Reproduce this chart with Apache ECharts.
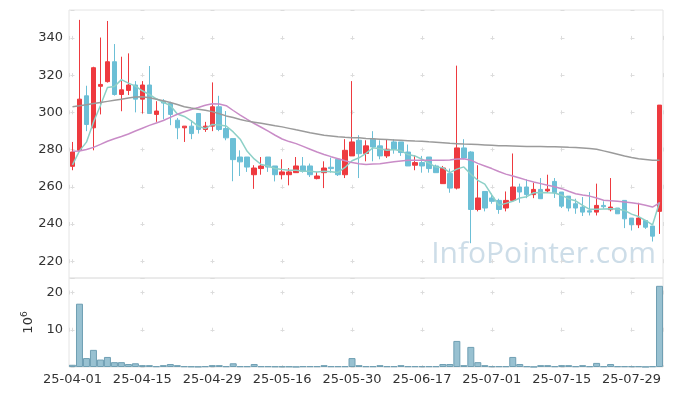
<!DOCTYPE html>
<html><head><meta charset="utf-8">
<script src="https://cdn.jsdelivr.net/npm/echarts@6/dist/echarts.min.js"></script>
<style>html,body{margin:0;padding:0;background:#fff}#c{width:673px;height:396px}</style>
</head><body><div id="c"></div>
<script>
const dates = [
'25-04-01','25-04-02','25-04-03','25-04-04','25-04-07','25-04-08','25-04-09','25-04-10','25-04-11','25-04-14',
'25-04-15','25-04-16','25-04-17','25-04-18','25-04-21','25-04-22','25-04-23','25-04-24','25-04-25','25-04-28',
'25-04-29','25-04-30','25-05-02','25-05-07','25-05-08','25-05-09','25-05-12','25-05-13','25-05-14','25-05-15',
'25-05-16','25-05-19','25-05-20','25-05-21','25-05-22','25-05-23','25-05-26','25-05-27','25-05-28','25-05-29',
'25-05-30','25-06-02','25-06-04','25-06-05','25-06-09','25-06-10','25-06-11','25-06-12','25-06-13','25-06-16',
'25-06-17','25-06-18','25-06-19','25-06-20','25-06-23','25-06-24','25-06-25','25-06-26','25-06-27','25-06-30',
'25-07-01','25-07-02','25-07-03','25-07-04','25-07-07','25-07-08','25-07-09','25-07-10','25-07-11','25-07-14',
'25-07-15','25-07-16','25-07-17','25-07-18','25-07-21','25-07-22','25-07-23','25-07-24','25-07-25','25-07-28',
'25-07-29','25-07-30','25-07-31','25-08-01','25-08-04'];

const opens = [
271.0,279.6,308.9,291.7,314.0,316.5,327.2,309.6,311.8,314.7,
307.1,314.7,298.9,306.0,304.8,295.8,291.7,292.6,299.4,290.8,
292.6,303.0,291.3,285.9,276.0,276.0,266.5,269.8,276.0,271.2,
266.5,266.5,267.6,271.2,271.2,264.4,267.6,270.5,274.8,266.5,
276.6,285.0,277.9,285.6,282.0,276.6,284.1,284.1,278.7,271.6,
273.0,276.0,271.2,261.7,267.1,259.3,280.9,278.7,247.8,257.5,
254.0,252.7,248.6,252.7,259.9,259.9,255.8,258.6,257.8,262.9,
257.2,255.0,250.9,249.1,247.1,246.4,250.0,247.7,248.6,252.7,
243.2,239.6,241.9,238.9,246.8];
const closes = [
278.7,307.1,293.5,324.0,315.0,327.2,309.6,312.1,314.7,307.1,
314.7,299.4,300.7,305.0,298.9,291.7,292.6,288.6,290.8,292.6,
303.0,290.8,286.3,274.6,273.4,270.6,270.1,271.2,270.6,266.5,
268.0,268.0,271.2,268.3,266.5,265.8,270.1,269.8,266.5,279.6,
284.1,277.8,282.0,281.4,276.6,280.2,280.2,278.4,271.2,273.0,
271.2,269.8,267.6,270.1,259.3,280.9,275.5,247.8,254.0,248.6,
252.2,247.8,252.7,259.9,257.2,255.8,258.6,253.6,258.7,256.8,
249.6,248.6,248.6,246.4,246.4,250.0,249.3,249.1,245.5,242.8,
239.6,243.2,238.3,233.5,303.9];
const lows = [
268.9,279.0,289.9,279.6,298.9,316.0,309.0,300.6,309.3,300.0,
299.4,299.4,294.9,296.3,293.1,285.6,284.1,285.6,288.6,289.5,
289.9,289.9,285.0,263.0,265.8,268.0,258.9,266.5,268.0,262.9,
264.0,260.8,267.6,267.6,265.3,264.0,259.3,267.6,265.8,264.7,
276.6,264.7,273.7,273.7,274.8,275.5,277.8,276.6,271.2,268.9,
267.6,267.6,267.6,261.7,256.8,258.6,274.8,229.7,246.8,246.8,
250.9,245.5,246.8,252.7,251.4,253.9,253.9,253.6,256.8,254.0,
248.6,246.8,245.5,244.3,244.6,244.6,248.2,246.8,245.5,237.8,
236.5,237.8,237.4,230.6,234.7];
const highs = [
284.1,349.7,314.3,324.5,340.2,349.1,336.7,329.9,331.7,316.8,
316.8,324.9,306.0,307.1,305.7,297.0,292.6,295.8,299.4,294.9,
316.1,308.9,300.7,285.9,279.6,276.0,271.6,276.0,276.0,271.2,
274.8,270.1,276.0,276.0,272.5,268.0,273.7,275.7,274.8,285.6,
316.8,287.7,285.0,289.9,285.0,285.6,285.6,284.1,282.7,276.9,
276.6,276.0,271.9,271.2,269.8,325.1,285.6,279.1,271.6,257.5,
256.3,253.6,257.5,277.9,261.7,264.0,262.2,264.7,266.5,264.7,
257.2,255.0,253.6,254.5,257.2,261.7,252.2,264.7,248.6,252.7,
243.2,251.4,241.9,238.9,303.9];

const ma5 = [
271.8,279.3,284.0,294.7,303.7,313.4,313.9,317.6,315.7,314.1,
311.6,309.6,307.3,305.4,303.7,299.1,297.8,295.4,292.5,291.3,
293.5,293.2,292.7,289.5,285.6,279.1,275.0,272.0,271.2,269.8,
269.3,268.9,268.9,268.4,268.4,268.0,268.4,268.1,267.7,270.4,
274.0,275.6,278.0,281.0,280.4,279.6,280.1,279.4,277.3,276.6,
274.8,272.7,270.6,270.3,267.6,269.5,270.7,266.7,263.5,261.4,
255.6,250.1,251.1,252.2,254.0,254.7,256.8,257.0,256.8,256.7,
255.5,253.5,252.5,250.0,247.9,248.0,248.1,248.2,248.1,247.3,
245.3,244.0,241.9,239.5,251.7];
const ma20 = [
279.1,279.2,280.0,281.2,282.8,284.5,285.8,287.0,288.4,290.0,
291.5,293.0,294.3,295.6,297.3,299.0,300.3,301.5,302.6,303.8,
304.6,304.5,303.6,301.0,298.5,296.2,294.0,292.0,289.9,287.7,
285.7,284.3,283.2,281.7,280.2,278.7,277.4,276.2,275.1,274.0,
273.0,272.4,272.0,272.2,272.4,272.9,273.4,273.9,274.3,274.3,
274.3,274.3,274.3,274.3,274.4,275.0,275.1,274.3,272.6,271.2,
269.8,268.2,266.8,265.8,264.7,263.6,262.6,261.7,260.8,260.0,
259.0,257.6,256.3,255.6,255.0,254.0,252.8,252.5,252.2,251.8,
251.4,250.9,250.1,249.1,251.4];
const ma60 = [
303.0,303.5,304.1,304.7,305.3,305.9,306.5,307.1,307.7,308.2,
308.4,307.8,307.1,306.2,305.3,304.2,303.0,302.3,301.7,301.1,
300.4,299.3,298.1,297.2,296.2,295.3,294.7,294.1,293.5,292.8,
292.2,291.4,290.6,289.9,289.1,288.4,287.7,287.3,286.9,286.6,
286.4,286.3,286.0,285.8,285.6,285.4,285.2,285.0,284.8,284.6,
284.5,284.2,284.0,283.7,283.4,283.2,283.0,282.9,282.7,282.5,
282.3,282.1,282.0,281.9,281.8,281.7,281.6,281.6,281.5,281.5,
281.4,281.2,281.1,280.9,280.6,280.2,279.3,278.4,277.5,276.6,
275.8,275.1,274.7,274.3,274.3];

// volume, in 10^6 shares
const volumes = [
0.6,17.0,2.4,4.6,2.0,2.7,1.3,1.3,0.8,1.0,
0.5,0.5,0.2,0.5,0.8,0.5,0.2,0.15,0.1,0.2,
0.5,0.5,0.2,1.0,0.2,0.2,0.8,0.2,0.2,0.15,
0.15,0.15,0.05,0.2,0.2,0.2,0.5,0.2,0.2,0.2,
2.4,0.5,0.2,0.2,0.5,0.2,0.2,0.5,0.2,0.2,
0.2,0.2,0.2,0.8,0.8,7.0,0.5,5.4,1.3,0.5,
0.2,0.2,0.2,2.7,0.8,0.2,0.05,0.5,0.5,0.2,
0.5,0.5,0.2,0.5,0.2,1.1,0.2,0.8,0.2,0.2,
0.2,0.2,0.05,0.2,21.8];

const UP = '#ee3a3f', DOWN = '#6cbfd6';
const FONT = 'DejaVu Sans';
const GRIDC = '#dcdcdc';
const ohlc = dates.map((d, i) => [opens[i], closes[i], lows[i], highs[i]]);

const chart = echarts.init(document.getElementById('c'), null, {renderer: 'canvas'});
const crossX = {show: true, lineStyle: {color: GRIDC, width: 1, type: [4, 66], dashOffset: 68.5}};
chart.setOption({
  animation: false,
  backgroundColor: '#ffffff',
  grid: [
    {left: 69, right: 10, top: 10, height: 268, show: true, borderColor: '#e4e4e4', borderWidth: 1},
    {left: 69, right: 10, top: 278, height: 89, show: true, borderColor: '#e4e4e4', borderWidth: 1}
  ],
  xAxis: [
    {type: 'category', gridIndex: 0, data: dates, axisLine: {show: false}, axisTick: {show: false},
     axisLabel: {show: false}, splitLine: {show: false}},
    {type: 'category', gridIndex: 1, data: dates, axisLine: {show: false}, axisTick: {show: false},
     axisLabel: {interval: 9, color: '#333', fontSize: 13, fontFamily: FONT, margin: 6}, splitLine: {show: false}},
    {type: 'value', gridIndex: 0, min: -0.5, max: dates.length - 0.5, splitNumber: 8,
     axisLine: {show: false}, axisTick: {show: false}, axisLabel: {show: false},
     splitLine: {show: true, lineStyle: {color: GRIDC, width: 1, type: [4, 33.22], dashOffset: 11.32}}},
    {type: 'value', gridIndex: 1, min: -0.5, max: dates.length - 0.5, splitNumber: 8,
     axisLine: {show: false}, axisTick: {show: false}, axisLabel: {show: false},
     splitLine: {show: true, lineStyle: {color: GRIDC, width: 1, type: [4, 33.24], dashOffset: 24.74}}}
  ],
  yAxis: [
    {type: 'value', gridIndex: 0, min: 211, max: 355, splitNumber: 7,
     axisLine: {show: false}, axisTick: {show: false},
     axisLabel: {color: '#333', fontSize: 13, fontFamily: FONT, margin: 6, showMinLabel: false, showMaxLabel: false},
     splitLine: crossX},
    {type: 'value', gridIndex: 1, min: 0, max: 23.9, splitNumber: 2,
     name: '{b|10}{s|6}', nameLocation: 'middle', nameRotate: 90, nameGap: 27,
     nameTextStyle: {color: '#333', fontFamily: FONT, rich: {b: {fontSize: 13, fontFamily: FONT, color: '#333'}, s: {fontSize: 9, fontFamily: FONT, color: '#333', padding: [0, 0, 9, 0]}}},
     axisLine: {show: false}, axisTick: {show: false},
     axisLabel: {color: '#333', fontSize: 13, fontFamily: FONT, margin: 6, showMinLabel: false, showMaxLabel: false},
     splitLine: crossX}
  ],
  graphic: [
    {type: 'text', right: 17, top: 239, z: 0, silent: true,
     style: {text: 'InfoPointer.com', font: '30px "Open Sans"', fill: 'rgba(168,197,216,0.58)'}}
  ],
  series: [
    {type: 'candlestick', name: 'price', xAxisIndex: 0, yAxisIndex: 0, data: ohlc, barWidth: 5, z: 3,
     itemStyle: {color: UP, color0: DOWN, borderColor: UP, borderColor0: DOWN, borderWidth: 1}},
    {type: 'line', name: 'MA5', xAxisIndex: 0, yAxisIndex: 0, data: ma5, symbol: 'none', z: 4,
     lineStyle: {color: '#8dd0c7', width: 1.5}},
    {type: 'line', name: 'MA20', xAxisIndex: 0, yAxisIndex: 0, data: ma20, symbol: 'none', z: 4,
     lineStyle: {color: '#c98cc7', width: 1.5}},
    {type: 'line', name: 'MA60', xAxisIndex: 0, yAxisIndex: 0, data: ma60, symbol: 'none', z: 4,
     lineStyle: {color: '#9b9b9b', width: 1.5}},
    {type: 'bar', name: 'volume', xAxisIndex: 1, yAxisIndex: 1, data: volumes, barCategoryGap: '0%',
     itemStyle: {color: '#98c1d1', borderColor: '#6f9fb3', borderWidth: 1}}
  ]
});
</script></body></html>
